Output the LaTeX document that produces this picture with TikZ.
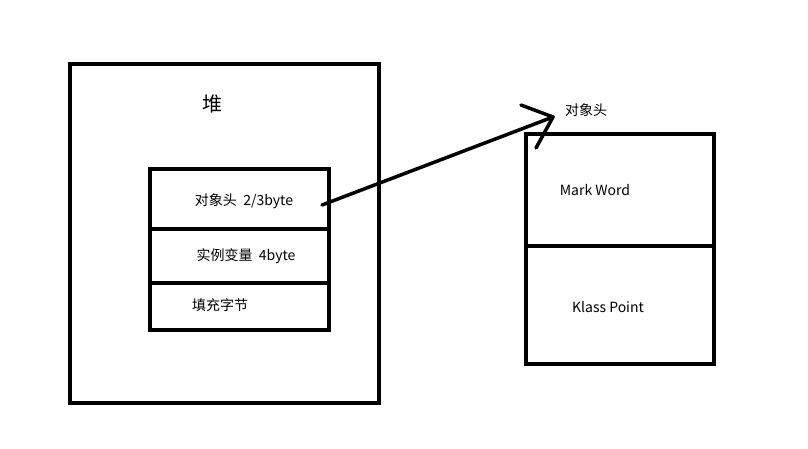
\documentclass[tikz,border=0pt]{standalone}
\usepackage{fontspec}
\setmainfont{Noto Sans CJK SC}
\usetikzlibrary{positioning}
\tikzset{box/.style={draw, line width=3.5pt, inner sep=0pt},
  lbl/.style={font=\fontsize{14}{16}\selectfont, inner sep=0pt}}
\begin{document}
\begin{tikzpicture}[x=1pt,y=-1pt]
\useasboundingbox (0,0) rectangle (808,448);
% heap
\node (heap) [box, minimum width=309pt, minimum height=339pt] at (224.5,233.5) {};
\node (heaplbl) [lbl, font=\fontsize{20}{22}\selectfont] at (212,104) {堆};
% object layout
\node (hdr) [box, minimum width=179pt, minimum height=60pt] at (239.5,199) {};
\node (inst) [box, minimum width=179pt, minimum height=54pt] at (239.5,256) {};
\node (pad) [box, minimum width=179pt, minimum height=47pt] at (239.5,306.5) {};
\node (hdrlbl) [lbl] at (244,201) {对象头\ \ 2/3byte};
\node (instlbl) [lbl] at (246,256) {实例变量\ \ 4byte};
\node (padlbl) [lbl] at (220,305) {填充字节};
% header detail
\node (mark) [box, minimum width=188pt, minimum height=112pt] at (620,190) {};
\node (klass) [box, minimum width=188pt, minimum height=118pt] at (620,305) {};
\node (marklbl) [lbl] at (595,190) {Mark Word};
\node (klasslbl) [lbl] at (608,307) {Klass Point};
\node (toplbl) [lbl] at (586,110) {对象头};
\coordinate (tip) at (553,117);
\coordinate (barb1) at (521,105);
\coordinate (barb2) at (536,148);
\draw [line width=3.5pt, line cap=round, line join=round] (322,205) -- (tip);
\draw [line width=3.5pt, line cap=round, line join=round] (barb1) -- (tip) -- (barb2);
\end{tikzpicture}
\end{document}
